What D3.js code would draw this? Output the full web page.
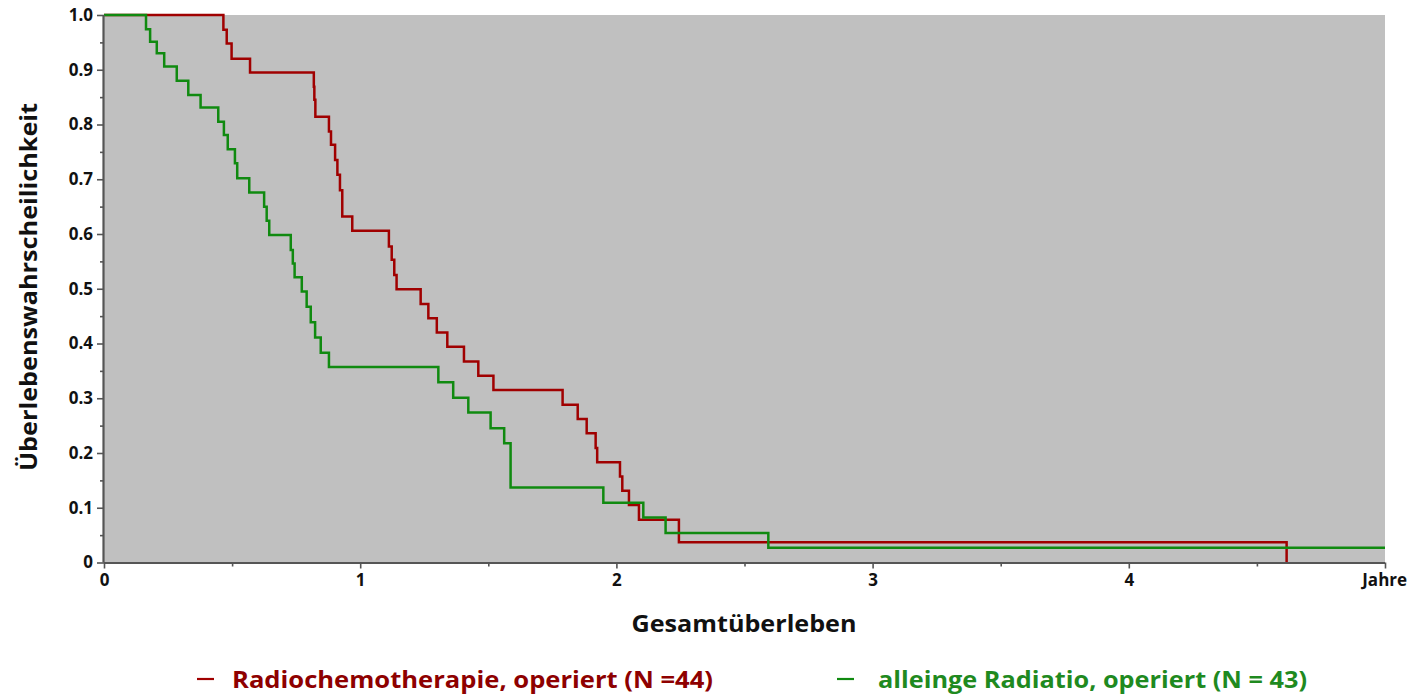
<!DOCTYPE html>
<html>
<head>
<meta charset="utf-8">
<script src="https://cdn.jsdelivr.net/npm/d3@7"></script>
<style>
  html, body { margin: 0; padding: 0; background: #ffffff; }
  svg { display: block; }
</style>
</head>
<body>
<svg id="chart" width="1424" height="697"></svg>
<script>
// ---- Data ----
const seriesNames = ["Radiochemotherapie, operiert (N =44)", "alleinge Radiatio, operiert (N = 43)"];

const redTimes = [0, 0.466, 0.479, 0.498, 0.570, 0.819, 0.821, 0.825, 0.878, 0.886, 0.902, 0.911, 0.921, 0.930, 0.969,
  1.112, 1.123, 1.133, 1.142, 1.236, 1.266, 1.299, 1.340, 1.405, 1.461, 1.520, 1.790, 1.849, 1.884, 1.919, 1.925,
  2.014, 2.023, 2.049, 2.088, 2.244, 4.616];
const redSurvival = [1, 0.973, 0.948, 0.920, 0.895, 0.869, 0.845, 0.814, 0.787, 0.763, 0.735, 0.708, 0.680, 0.632, 0.606,
  0.577, 0.553, 0.525, 0.499, 0.472, 0.446, 0.420, 0.394, 0.367, 0.341, 0.315, 0.288, 0.262, 0.236, 0.209, 0.183,
  0.157, 0.131, 0.105, 0.078, 0.037, 0];

const greenTimes = [0, 0.164, 0.180, 0.206, 0.235, 0.284, 0.329, 0.377, 0.446, 0.468, 0.483, 0.511, 0.520, 0.567,
  0.625, 0.635, 0.645, 0.729, 0.737, 0.744, 0.772, 0.791, 0.807, 0.824, 0.846, 0.878, 1.305, 1.363, 1.422, 1.509,
  1.562, 1.587, 1.949, 2.105, 2.192, 2.593, 5.0];
const greenSurvival = [1, 0.974, 0.951, 0.930, 0.906, 0.880, 0.854, 0.831, 0.805, 0.781, 0.755, 0.729, 0.702, 0.676,
  0.650, 0.624, 0.598, 0.571, 0.546, 0.521, 0.495, 0.467, 0.439, 0.411, 0.383, 0.357, 0.329, 0.301, 0.274, 0.245,
  0.218, 0.137, 0.109, 0.082, 0.054, 0.027, 0.027];

const xTicks = [0, 1, 2, 3, 4, 5];
const xTickLabels = ["0", "1", "2", "3", "4", "Jahre"];
const xMinorTicks = [0.5, 1.5, 2.5, 3.5, 4.5];
const yTicks = [0, 0.1, 0.2, 0.3, 0.4, 0.5, 0.6, 0.7, 0.8, 0.9, 1.0];
const yTickLabels = ["0", "0.1", "0.2", "0.3", "0.4", "0.5", "0.6", "0.7", "0.8", "0.9", "1.0"];
const yMinorTicks = [0.05, 0.15, 0.25, 0.35, 0.45, 0.55, 0.65, 0.75, 0.85, 0.95];

const xTitle = "Gesamtüberleben";
const yTitle = "Überlebenswahrscheilichkeit";

// ---- Layout ----
const svg = d3.select("#chart");
const plot = { left: 104, right: 1385, top: 15, bottom: 562.5 };
const x = d3.scaleLinear().domain([0, 5]).range([plot.left, plot.right]);
const y = d3.scaleLinear().domain([0, 1]).range([plot.bottom, plot.top]);

const font = "'Open Sans', 'DejaVu Sans', sans-serif";
const axisColor = "#555555";
const redColor = "#a00000";
const greenColor = "#108a10";

// background
svg.append("rect")
  .attr("x", plot.left).attr("y", plot.top)
  .attr("width", plot.right - plot.left).attr("height", plot.bottom - plot.top)
  .attr("fill", "#c0c0c0");

// curves
const line = d3.line().x(d => x(d[0])).y(d => y(d[1])).curve(d3.curveStepAfter);
const redData = redTimes.map((t, i) => [t, redSurvival[i]]);
const greenData = greenTimes.map((t, i) => [t, greenSurvival[i]]);

svg.append("path").datum(redData)
  .attr("d", line).attr("fill", "none")
  .attr("stroke", redColor).attr("stroke-width", 2.5);
svg.append("path").datum(greenData)
  .attr("d", line).attr("fill", "none")
  .attr("stroke", greenColor).attr("stroke-width", 2.5);

// x axis
const xAxis = d3.axisBottom(x).tickValues(xTicks)
  .tickFormat((d, i) => xTickLabels[i]).tickSize(6).tickPadding(5);
const gx = svg.append("g").attr("transform", `translate(0,${plot.bottom})`).call(xAxis);
gx.selectAll(".tick").filter(d => d === 5).select("text").attr("dx", "-0.05em");
const gxMinor = svg.append("g").attr("transform", `translate(0,${plot.bottom})`)
  .call(d3.axisBottom(x).tickValues(xMinorTicks).tickFormat("").tickSize(4));
gxMinor.select(".domain").remove();

// y axis
const yAxis = d3.axisLeft(y).tickValues(yTicks)
  .tickFormat((d, i) => yTickLabels[i]).tickSize(7).tickPadding(4);
const gy = svg.append("g").attr("transform", `translate(${plot.left},0)`).call(yAxis);
const gyMinor = svg.append("g").attr("transform", `translate(${plot.left},0)`)
  .call(d3.axisLeft(y).tickValues(yMinorTicks).tickFormat("").tickSize(4));
gyMinor.select(".domain").remove();

[gx, gy, gxMinor, gyMinor].forEach(g => {
  g.selectAll(".domain").attr("stroke", axisColor).attr("stroke-width", 2.2);
  g.selectAll(".tick line").attr("stroke", axisColor).attr("stroke-width", 1.6);
  g.selectAll(".tick text")
    .attr("font-family", font).attr("font-size", 17).attr("font-weight", 700).attr("fill", "#111");
});
gx.select(".domain").attr("d", `M${plot.left},0.5H${plot.right}`);
gy.select(".domain").attr("d", `M-0.5,${plot.bottom}V${plot.top}`);

// axis titles
svg.append("text")
  .attr("x", 744).attr("y", 632)
  .attr("text-anchor", "middle")
  .attr("font-family", font).attr("font-size", 24).attr("font-weight", 700).attr("fill", "#111")
  .attr("textLength", 225).attr("lengthAdjust", "spacingAndGlyphs")
  .text(xTitle);

svg.append("text")
  .attr("transform", "translate(37,287) rotate(-90)")
  .attr("text-anchor", "middle")
  .attr("font-family", font).attr("font-size", 24).attr("font-weight", 700).attr("fill", "#111")
  .attr("textLength", 368).attr("lengthAdjust", "spacingAndGlyphs")
  .text(yTitle);

// legend
const legendItems = [
  { name: seriesNames[0], color: redColor, text: "#8e0000", lx: 197, tx: 232, w: 481 },
  { name: seriesNames[1], color: greenColor, text: "#1f8a1f", lx: 837, tx: 878, w: 429 }
];
const lg = svg.append("g");
legendItems.forEach(it => {
  lg.append("line")
    .attr("x1", it.lx).attr("x2", it.lx + 17)
    .attr("y1", 679).attr("y2", 679)
    .attr("stroke", it.color).attr("stroke-width", 2.2);
  lg.append("text")
    .attr("x", it.tx).attr("y", 688)
    .attr("font-family", font).attr("font-size", 23).attr("font-weight", 700)
    .attr("fill", it.text)
    .attr("textLength", it.w).attr("lengthAdjust", "spacingAndGlyphs")
    .text(it.name);
});
</script>
</body>
</html>
